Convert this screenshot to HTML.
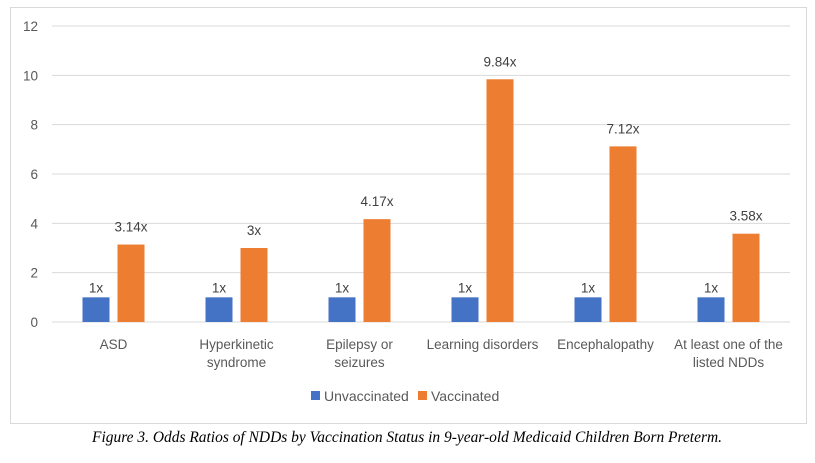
<!DOCTYPE html>
<html><head><meta charset="utf-8"><style>
body{margin:0;background:#fff;width:815px;height:458px;overflow:hidden;font-family:"Liberation Sans",sans-serif}
</style></head><body>
<svg width="815" height="458">
<rect x="10.5" y="7.5" width="796" height="416" fill="#fff" stroke="#d9d9d9"/>
<g id="grid"></g><g id="bars"></g>
<g font-size="14" fill="#595959">
<rect x="311" y="391" width="9" height="9" fill="#4472c4"/>
<text x="324" y="401">Unvaccinated</text>
<rect x="418" y="391" width="9" height="9" fill="#ed7d31"/>
<text x="431" y="401">Vaccinated</text>
</g>
<text x="407" y="442" text-anchor="middle" font-family="'Liberation Serif',serif" font-style="italic" font-size="15.5" textLength="630" lengthAdjust="spacingAndGlyphs" fill="#000">Figure 3. Odds Ratios of NDDs by Vaccination Status in 9-year-old Medicaid Children Born Preterm.</text>
</svg>
<script>
const categories=[["ASD"],["Hyperkinetic","syndrome"],["Epilepsy or","seizures"],["Learning disorders"],["Encephalopathy"],["At least one of the","listed NDDs"]];
const unvaccinated=[1,1,1,1,1,1];
const vaccinated=[3.14,3,4.17,9.84,7.12,3.58];
const unvacLabels=["1x","1x","1x","1x","1x","1x"];
const vacLabels=["3.14x","3x","4.17x","9.84x","7.12x","3.58x"];
const ticks=[0,2,4,6,8,10,12];
const NS="http://www.w3.org/2000/svg";
const x0=52,x1=790,y0=322,y1=26,ymax=12;
const bw=(x1-x0)/categories.length;
const y=v=>y0-(y0-y1)*v/ymax;
function el(t,a,p,txt){const e=document.createElementNS(NS,t);for(const k in a)e.setAttribute(k,a[k]);if(txt!==undefined)e.textContent=txt;p.appendChild(e);return e;}
const g=document.getElementById('grid'),b=document.getElementById('bars');
ticks.forEach(t=>{
 const l=el('line',{x1:x0,x2:x1,y1:y(t),y2:y(t),stroke:'#d9d9d9'},g);
 
 
 const tx=el('text',{x:38,y:y(t)+5,'text-anchor':'end','font-size':'13.5',fill:'#595959'},g,String(t));
 
 
});
categories.forEach((c,i)=>{
 const cx=x0+bw*(i+0.5);
 const r1=el('rect',{x:cx-31,y:y(unvaccinated[i]),width:27,height:y0-y(unvaccinated[i]),fill:'#4472c4'},b);
 
 
 const r2=el('rect',{x:cx+4,y:y(vaccinated[i]),width:27,height:y0-y(vaccinated[i]),fill:'#ed7d31'},b);
 
 
 const t1=el('text',{x:cx-17.5,y:y(unvaccinated[i])-5,'text-anchor':'middle','font-size':'13.5',fill:'#404040'},b,unvacLabels[i]);
 
 
 const t2=el('text',{x:cx+17.5,y:y(vaccinated[i])-13,'text-anchor':'middle','font-size':'13.5',fill:'#404040'},b,vacLabels[i]);
 
 
 c.forEach((line,j)=>{
  const t=el('text',{x:cx,y:349+j*18,'text-anchor':'middle','font-size':'13.5',fill:'#595959'},b,line);
  
  
 });
});
</script>
</body></html>
